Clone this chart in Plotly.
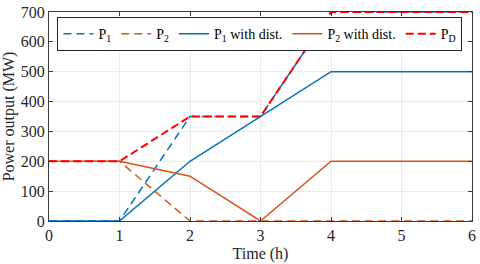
import plotly.graph_objects as go

t = [0, 1, 2, 3, 4, 5, 6]
p1 = [0, 0, 350, 350, 700, 700, 700]
p2 = [200, 200, 0, 0, 0, 0, 0]
p1_dist = [0, 0, 200, 350, 500, 500, 500]
p2_dist = [200, 200, 150, 0, 200, 200, 200]
p_d = [200, 200, 350, 350, 700, 700, 700]

BLUE = "#0072BD"
ORANGE = "#D95319"
RED = "#FF0000"
FONT = "Liberation Serif"

fig = go.Figure()
fig.add_trace(go.Scatter(x=t, y=p1, mode="lines", name="P<sub>1</sub>",
                         line=dict(color=BLUE, width=1.5, dash="8px,5px")))
fig.add_trace(go.Scatter(x=t, y=p2, mode="lines", name="P<sub>2</sub>",
                         line=dict(color=ORANGE, width=1.5, dash="8px,5px")))
fig.add_trace(go.Scatter(x=t, y=p1_dist, mode="lines", name="P<sub>1</sub> with dist.",
                         line=dict(color=BLUE, width=1.5)))
fig.add_trace(go.Scatter(x=t, y=p2_dist, mode="lines", name="P<sub>2</sub> with dist.",
                         line=dict(color=ORANGE, width=1.5)))
fig.add_trace(go.Scatter(x=t, y=p_d, mode="lines", name="P<sub>D</sub>",
                         line=dict(color=RED, width=2, dash="8px,4px")))

axis_common = dict(
    showline=True, linecolor="#3a3a3a", linewidth=1, mirror="ticks",
    ticks="inside", ticklen=4, tickcolor="#3a3a3a",
    showgrid=True, gridcolor="#EBEBEB", gridwidth=1, zeroline=False,
    tickfont=dict(family=FONT, size=16, color="#262626"),
    ticklabeloverflow="allow",
)

fig.update_layout(
    width=480, height=264,
    margin=dict(l=49, r=4, t=9, b=43),
    paper_bgcolor="white", plot_bgcolor="white",
    font=dict(family=FONT, size=14, color="#262626"),
    xaxis=dict(range=[0, 6], dtick=1, title=dict(text="Time (h)", standoff=4,
               font=dict(family=FONT, size=16)), **axis_common),
    yaxis=dict(range=[0, 700], dtick=100, title=dict(text="Power output (MW)", standoff=5,
               font=dict(family=FONT, size=16)), **axis_common),
    legend=dict(orientation="h", x=0.02, y=0.975, xanchor="left", yanchor="top",
                bgcolor="white", bordercolor="#262626", borderwidth=1,
                font=dict(family=FONT, size=14, color="black"),
                tracegroupgap=0),
    showlegend=True,
)

fig.write_html("out.html", config={"displayModeBar": False},
               post_script="document.body.style.margin='0';")
